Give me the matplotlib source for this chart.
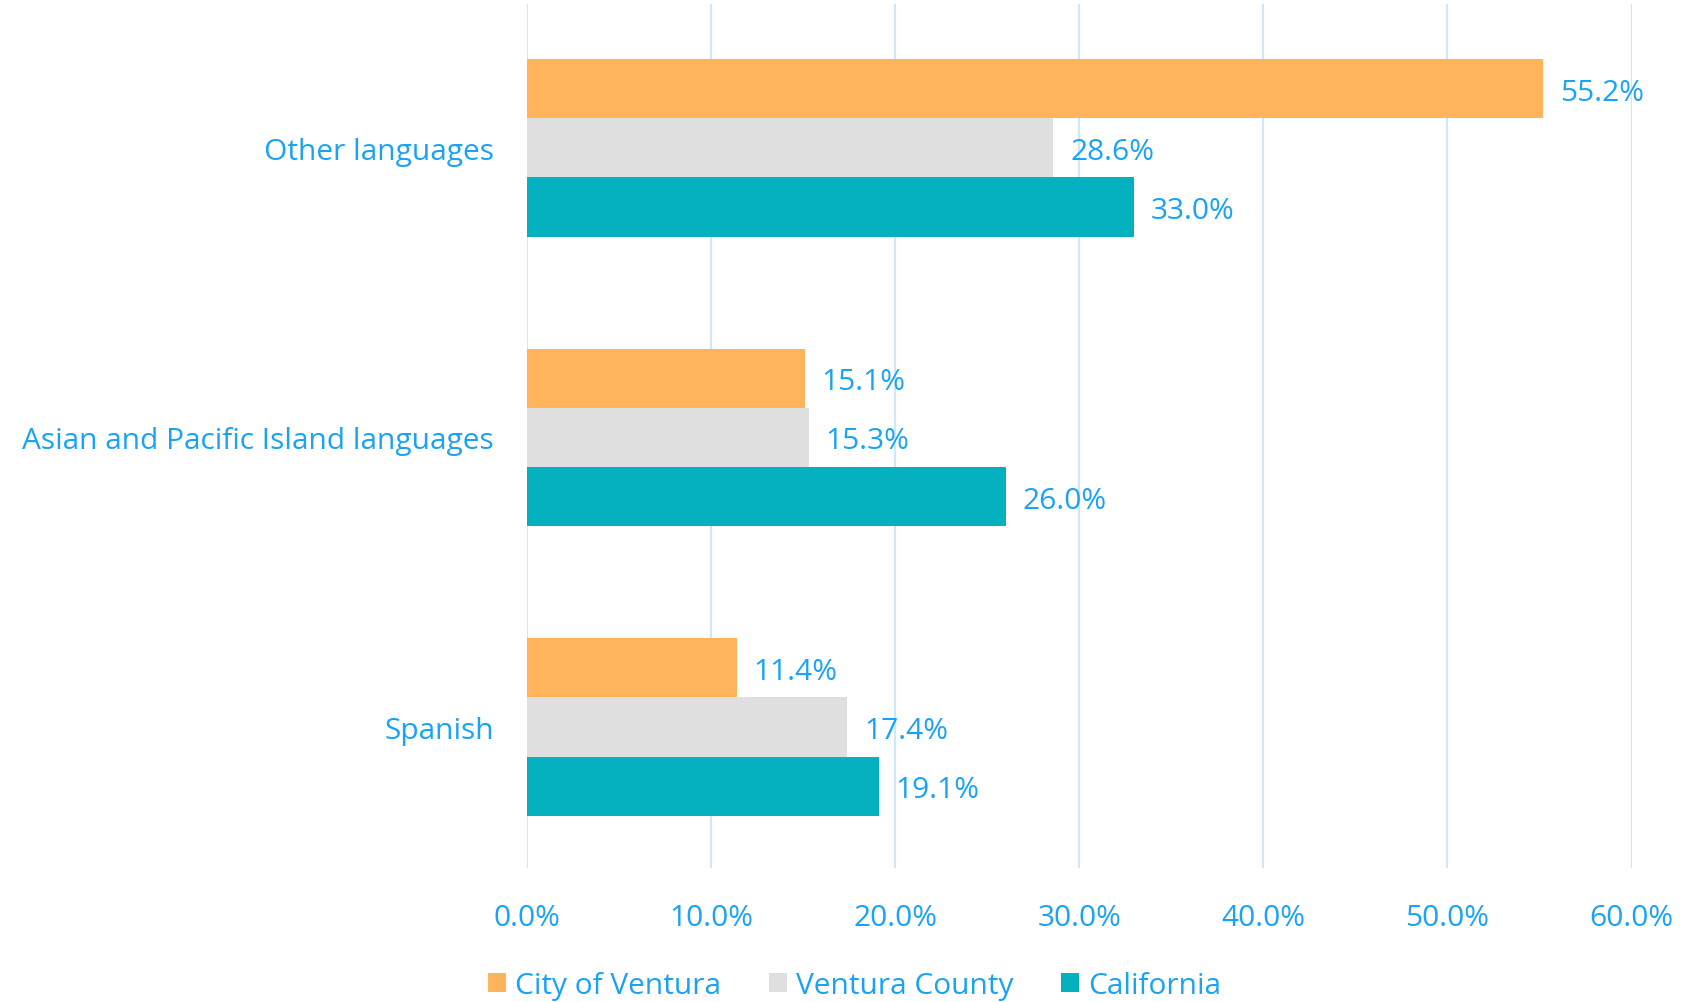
import matplotlib.pyplot as plt
import numpy as np

categories = ["Spanish", "Asian and Pacific Island languages", "Other languages"]
series_names = ["City of Ventura", "Ventura County", "California"]
city = [11.4, 15.1, 55.2]
county = [17.4, 15.3, 28.6]
california = [19.1, 26.0, 33.0]
xticks = [0, 10, 20, 30, 40, 50, 60]

colors = ["#FFB35A", "#DFDFDF", "#06B1BF"]
text_color = "#1AA3F5"
grid_color = "#CDE8FA"

plt.rcParams["font.family"] = ["Open Sans", "DejaVu Sans"]

fig = plt.figure(figsize=(16.82, 10.03), dpi=100)
ax = fig.add_axes([0.3133, 0.1336, 0.6567, 0.8614])

y = np.arange(len(categories))
h = 0.204
offsets = [h, 0, -h]
for vals, off, col, name in zip([city, county, california], offsets, colors, series_names):
    ax.barh(y + off, vals, height=h, color=col, label=name, zorder=2)
    for yy, v in zip(y + off, vals):
        ax.text(v + 0.9, yy, "{:.1f}%".format(v), va="center_baseline", ha="left",
                fontsize=21.5, color=text_color)

ax.set_xlim(0, 60)
ax.set_ylim(-0.487, 2.497)
ax.set_xticks(xticks)
ax.set_xticklabels(["{:.1f}%".format(t) for t in xticks])
ax.set_yticks(y)
ax.set_yticklabels(categories)
ax.tick_params(axis="both", length=0, labelsize=21.5, colors=text_color)
ax.tick_params(axis="x", pad=25)
ax.tick_params(axis="y", pad=24)
for s in ax.spines.values():
    s.set_visible(False)
ax.xaxis.grid(True, color=grid_color, linewidth=1.5, zorder=0)
ax.set_axisbelow(True)

leg = fig.legend(loc="center", bbox_to_anchor=(0.508, 0.016), ncol=3, frameon=False,
                 fontsize=21.5, handlelength=0.6, handleheight=0.6, handletextpad=0.3,
                 columnspacing=1.6)
for t in leg.get_texts():
    t.set_color(text_color)

fig.savefig("out.png", dpi=100)
